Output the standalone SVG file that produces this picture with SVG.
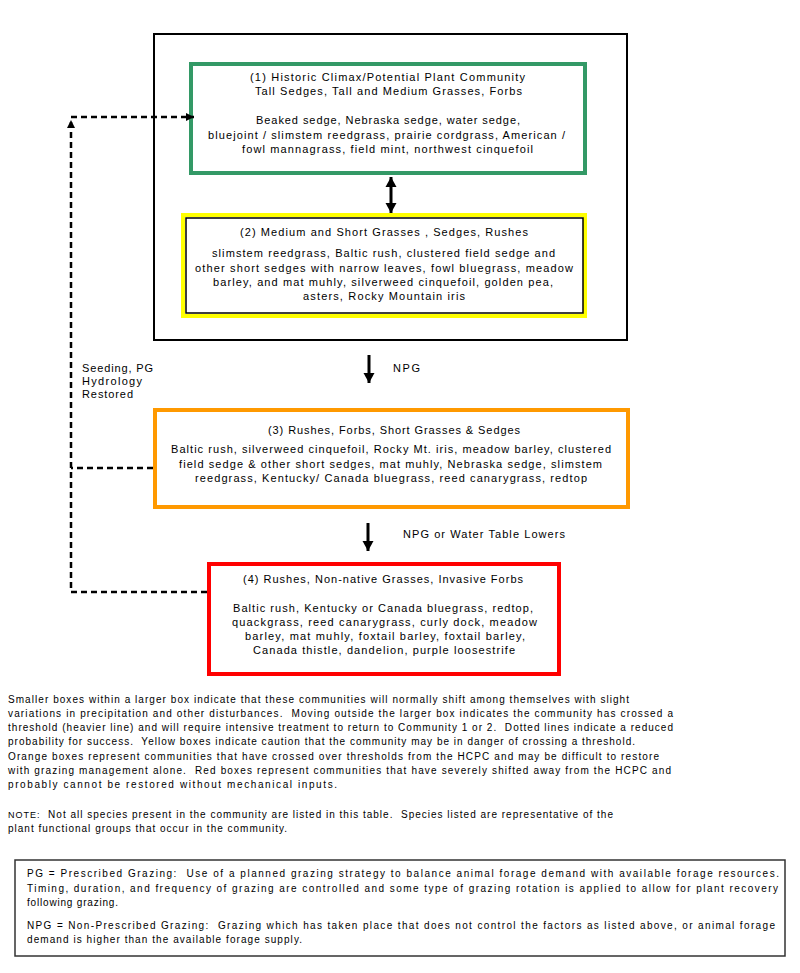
<svg xmlns="http://www.w3.org/2000/svg" width="800" height="973" viewBox="0 0 800 973">
<style>
text{font-family:"Liberation Sans",Arial,Helvetica,sans-serif;fill:#000}
.b{font-size:11px}
.p{font-size:10px;white-space:pre}
.n{font-size:9px}
.dash{fill:none;stroke:#000;stroke-width:2.5;stroke-dasharray:6,4}
.solid{fill:none;stroke:#000;stroke-width:3}
</style>
<defs>
<marker id="ah" markerUnits="userSpaceOnUse" markerWidth="12" markerHeight="12" refX="10" refY="6" orient="auto-start-reverse" viewBox="0 0 12 12">
<path d="M0,0.5 L10,6 L0,11.5 z" fill="#000"/>
</marker>
<marker id="ahs" markerUnits="userSpaceOnUse" markerWidth="9" markerHeight="9" refX="8" refY="4.5" orient="auto" viewBox="0 0 9 9">
<path d="M0,0.5 L8,4.5 L0,8.5 z" fill="#000"/>
</marker>
</defs>
<rect width="800" height="973" fill="#fff"/>

<g id="threshold-box">
<rect x="154" y="34" width="473" height="306" fill="none" stroke="#000" stroke-width="2"/>
</g>

<g id="node1">
<rect x="191" y="64" width="394" height="109" fill="#fff" stroke="#339966" stroke-width="4"/>
<text class="b" x="250" y="81" textLength="275">(1) Historic Climax/Potential Plant Community</text>
<text class="b" x="255" y="95" textLength="267">Tall Sedges, Tall and Medium Grasses, Forbs</text>
<text class="b" x="256" y="124" textLength="264">Beaked sedge, Nebraska sedge, water sedge,</text>
<text class="b" x="208" y="139" textLength="357">bluejoint / slimstem reedgrass, prairie cordgrass, American /</text>
<text class="b" x="242" y="153" textLength="291">fowl mannagrass, field mint, northwest cinquefoil</text>
</g>

<g id="node2">
<rect x="183" y="215" width="402" height="101" fill="#fff" stroke="#ffff00" stroke-width="4"/>
<rect x="186" y="218" width="397" height="95" fill="none" stroke="#000" stroke-width="1.5"/>
<text class="b" x="240" y="236" textLength="288">(2) Medium and Short Grasses , Sedges, Rushes</text>
<text class="b" x="212" y="257" textLength="343">slimstem reedgrass, Baltic rush, clustered field sedge and</text>
<text class="b" x="195" y="272" textLength="378">other short sedges with narrow leaves, fowl bluegrass, meadow</text>
<text class="b" x="213" y="286" textLength="340">barley, and mat muhly, silverweed cinquefoil, golden pea,</text>
<text class="b" x="303" y="300" textLength="162">asters, Rocky Mountain iris</text>
</g>

<g id="node3">
<rect x="155" y="410" width="473" height="97" fill="#fff" stroke="#ff9900" stroke-width="4"/>
<text class="b" x="268" y="434" textLength="252">(3) Rushes, Forbs, Short Grasses &amp; Sedges</text>
<text class="b" x="171" y="453" textLength="440">Baltic rush, silverweed cinquefoil, Rocky Mt. iris, meadow barley, clustered</text>
<text class="b" x="179" y="468" textLength="423">field sedge &amp; other short sedges, mat muhly, Nebraska sedge, slimstem</text>
<text class="b" x="195" y="482" textLength="392">reedgrass, Kentucky/ Canada bluegrass, reed canarygrass, redtop</text>
</g>

<g id="node4">
<rect x="209" y="564" width="350" height="110" fill="#fff" stroke="#ff0000" stroke-width="4"/>
<text class="b" x="243" y="583" textLength="280">(4) Rushes, Non-native Grasses, Invasive Forbs</text>
<text class="b" x="233" y="612" textLength="300">Baltic rush, Kentucky or Canada bluegrass, redtop,</text>
<text class="b" x="232" y="626" textLength="305">quackgrass, reed canarygrass, curly dock, meadow</text>
<text class="b" x="245" y="640" textLength="280">barley, mat muhly, foxtail barley, foxtail barley,</text>
<text class="b" x="253" y="654" textLength="262">Canada thistle, dandelion, purple loosestrife</text>
</g>

<g id="connectors">
<line class="solid" x1="391" y1="177" x2="391" y2="213" stroke-width="4" marker-start="url(#ah)" marker-end="url(#ah)"/>
<line class="solid" x1="369" y1="355" x2="369" y2="383" marker-end="url(#ah)"/>
<line class="solid" x1="368" y1="523" x2="368" y2="551" marker-end="url(#ah)"/>
<path class="dash" d="M207,592 H71 V120" marker-end="url(#ahs)"/>
<path class="dash" d="M153,468 H71"/>
<path class="dash" d="M71,117 H194" marker-end="url(#ahs)"/>
<text class="b" x="82" y="372" textLength="71">Seeding, PG</text>
<text class="b" x="82" y="385" textLength="60">Hydrology</text>
<text class="b" x="82" y="398" textLength="51">Restored</text>
<text class="b" x="393" y="372" textLength="27">NPG</text>
<text class="b" x="403" y="538" textLength="162">NPG or Water Table Lowers</text>
</g>

<g id="legend">
<text class="p" x="8" y="703" textLength="621">Smaller boxes within a larger box indicate that these communities will normally shift among themselves with slight</text>
<text class="p" x="8" y="717" textLength="665">variations in precipitation and other disturbances.  Moving outside the larger box indicates the community has crossed a</text>
<text class="p" x="8" y="731" textLength="665">threshold (heavier line) and will require intensive treatment to return to Community 1 or 2.  Dotted lines indicate a reduced</text>
<text class="p" x="8" y="745" textLength="627">probability for success.  Yellow boxes indicate caution that the community may be in danger of crossing a threshold.</text>
<text class="p" x="8" y="760" textLength="651">Orange boxes represent communities that have crossed over thresholds from the HCPC and may be difficult to restore</text>
<text class="p" x="8" y="774" textLength="663">with grazing management alone.  Red boxes represent communities that have severely shifted away from the HCPC and</text>
<text class="p" x="8" y="788" textLength="329">probably cannot be restored without mechanical inputs.</text>
<text class="p" x="8" y="818" textLength="605"><tspan class="n">NOTE:</tspan>  Not all species present in the community are listed in this table.  Species listed are representative of the</text>
<text class="p" x="8" y="832" textLength="279">plant functional groups that occur in the community.</text>
</g>

<g id="definitions">
<rect x="15" y="860" width="770" height="96" fill="none" stroke="#333" stroke-width="1.5"/>
<text class="p" x="27" y="877" textLength="752">PG = Prescribed Grazing:  Use of a planned grazing strategy to balance animal forage demand with available forage resources.</text>
<text class="p" x="27" y="892" textLength="751">Timing, duration, and frequency of grazing are controlled and some type of grazing rotation is applied to allow for plant recovery</text>
<text class="p" x="27" y="906" textLength="91">following grazing.</text>
<text class="p" x="27" y="929" textLength="748">NPG = Non-Prescribed Grazing:  Grazing which has taken place that does not control the factors as listed above, or animal forage</text>
<text class="p" x="27" y="943" textLength="275">demand is higher than the available forage supply.</text>
</g>
</svg>
